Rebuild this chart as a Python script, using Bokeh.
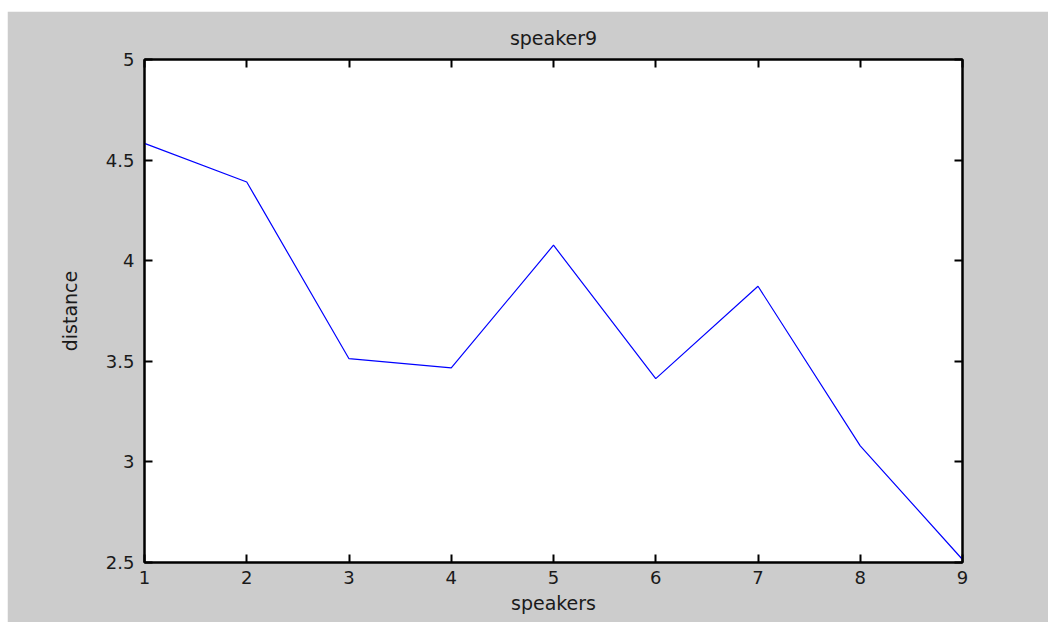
from bokeh.plotting import figure
from bokeh.models import LinearAxis, FixedTicker, Range1d
from bokeh.embed import file_html
from bokeh.resources import INLINE

speakers = [1, 2, 3, 4, 5, 6, 7, 8, 9]
distance = [4.583, 4.391, 3.513, 3.467, 4.077, 3.414, 3.873, 3.08, 2.515]
x_ticks = [1, 2, 3, 4, 5, 6, 7, 8, 9]
y_ticks = [2.5, 3, 3.5, 4, 4.5, 5]

FONT = "DejaVu Sans"
GRAY = "#cccccc"

p = figure(
    frame_width=818, frame_height=503,
    output_backend="svg", toolbar_location=None,
    x_range=Range1d(1, 9), y_range=Range1d(2.5, 5),
    min_border_left=137, min_border_right=86,
    min_border_top=48, min_border_bottom=60,
    background_fill_color="white", border_fill_color=GRAY,
    outline_line_color="black", outline_line_width=2,
    title="speaker9",
    margin=(11, 0, 0, 7),
)

p.title.align = "center"
p.title.text_font = FONT
p.title.text_font_size = "19px"
p.title.text_font_style = "normal"
p.title.text_color = "#1a1a1a"
p.title.standoff = 22

p.xgrid.grid_line_color = None
p.ygrid.grid_line_color = None

p.line(speakers, distance, line_color="#0000ff", line_width=1.2)

def style_axis(ax, ticks, show_labels=True):
    ax.ticker = FixedTicker(ticks=ticks)
    ax.major_tick_in = 8
    ax.major_tick_out = 0
    ax.minor_tick_line_color = None
    ax.major_tick_line_color = "black"
    ax.major_tick_line_width = 2
    ax.axis_line_color = "black"
    ax.axis_line_width = 2
    ax.major_label_text_font = FONT
    ax.major_label_text_font_size = "18px"
    ax.major_label_text_color = "#1a1a1a"
    ax.major_label_standoff = 9
    ax.axis_label_text_font = FONT
    ax.axis_label_text_font_size = "19px"
    ax.axis_label_text_font_style = "normal"
    ax.axis_label_text_color = "#1a1a1a"
    if not show_labels:
        ax.major_label_overrides = {t: "" for t in ticks}
        ax.major_label_standoff = 0

style_axis(p.xaxis[0], x_ticks)
style_axis(p.yaxis[0], y_ticks)
p.xaxis[0].major_label_standoff = 8
p.xaxis[0].axis_label = "speakers"
p.yaxis[0].axis_label = "distance"
p.xaxis[0].axis_label_standoff = 5
p.yaxis[0].axis_label_standoff = 22
p.yaxis[0].major_label_standoff = 10

top = LinearAxis()
style_axis(top, x_ticks, show_labels=False)
p.add_layout(top, "above")
right = LinearAxis()
style_axis(right, y_ticks, show_labels=False)
p.add_layout(right, "right")

open("out.html", "w").write(file_html(p, INLINE))
